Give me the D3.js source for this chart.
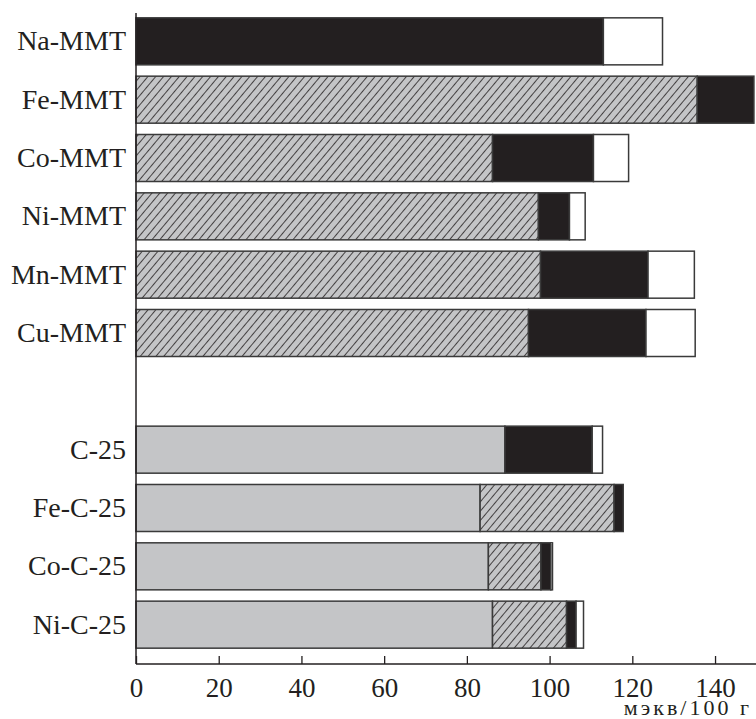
<!DOCTYPE html>
<html><head><meta charset="utf-8">
<script src="https://cdn.jsdelivr.net/npm/d3@7"></script>
<style>body{margin:0;background:#fff}svg{display:block}</style>
</head><body>
<script>
const categories = ["Na-MMT","Fe-MMT","Co-MMT","Ni-MMT","Mn-MMT","Cu-MMT","","C-25","Fe-C-25","Co-C-25","Ni-C-25"];
const seriesKeys = ["gray","hatched","black","white"];
const grayVals    = [0, 0, 0, 0, 0, 0, 0, 89.2, 83.2, 85.2, 86.2];
const hatchedVals = [0, 135.7, 86.2, 97.3, 97.8, 94.9, 0, 0, 32.4, 12.7, 17.9];
const blackVals   = [113, 13.7, 24.4, 7.5, 26.0, 28.4, 0, 21.1, 2.2, 2.4, 2.3];
const whiteVals   = [14.3, 0, 8.5, 3.8, 11.2, 11.9, 0, 2.5, 0, 0.4, 1.8];
const xTicks = [0,20,40,60,80,100,120,140];
const unitLabel = "мэкв/100 г";

const FONT = "Liberation Serif";
const W = 756, H = 719;
const x0 = 136, axisY = 664;
const svg = d3.select("body").append("svg").attr("width", W).attr("height", H)
  .attr("font-family", FONT);

const defs = svg.append("defs");
const pat = defs.append("pattern").attr("id","hatch").attr("patternUnits","userSpaceOnUse")
  .attr("width",6).attr("height",6).attr("patternTransform","rotate(40)");
pat.append("rect").attr("width",6).attr("height",6).attr("fill","#c4c5c7");
pat.append("line").attr("x1",0).attr("y1",0).attr("x2",0).attr("y2",6)
  .attr("stroke","#231f20").attr("stroke-width",1.6);

const x = d3.scaleLinear().domain([0,150]).range([x0, x0 + 150*4.136]);
const y = d3.scaleBand().domain(categories).range([12, 654]).paddingInner(0.194).paddingOuter(0.1);

const table = categories.map((c,i)=>({cat:c, gray:grayVals[i], hatched:hatchedVals[i], black:blackVals[i], white:whiteVals[i]}));
const stack = d3.stack().keys(seriesKeys)(table);
const fills = {gray:"#c4c5c7", hatched:"url(#hatch)", black:"#231f20", white:"#ffffff"};

stack.forEach(layer=>{
  svg.append("g").selectAll("rect").data(layer.filter(d=>d[1]-d[0]>0 && d.data.cat!==""))
    .join("rect")
    .attr("x", d=>x(d[0]))
    .attr("y", d=>y(d.data.cat))
    .attr("width", d=>x(d[1])-x(d[0]))
    .attr("height", y.bandwidth())
    .attr("fill", fills[layer.key])
    .attr("stroke", "#3a3a3a")
    .attr("stroke-width", 1.5);
});

// x axis
const xAxis = d3.axisBottom(x).tickValues(xTicks).tickSize(-8).tickPadding(14).tickFormat(d3.format("d"));
const gx = svg.append("g").attr("transform",`translate(0,${axisY})`).call(xAxis);
gx.attr("font-family", FONT);
gx.select(".domain").remove();
gx.append("line").attr("x1",x0).attr("x2",W).attr("stroke","#231f20").attr("stroke-width",1.5);
gx.selectAll(".tick line").attr("stroke","#231f20").attr("stroke-width",1.3);
gx.selectAll(".tick text").attr("font-family", FONT).attr("font-size",27).attr("fill","#231f20");

// y axis
const yAxis = d3.axisLeft(y).tickSize(0).tickPadding(10);
const gy = svg.append("g").attr("transform",`translate(${x0},0)`).call(yAxis);
gy.attr("font-family", FONT);
gy.select(".domain").remove();
gy.append("line").attr("y1",13).attr("y2",axisY).attr("stroke","#231f20").attr("stroke-width",1.5);
gy.selectAll(".tick text").attr("font-family", FONT).attr("font-size",28).attr("fill","#231f20");

svg.append("text").attr("x",752).attr("y",715).attr("text-anchor","end")
  .attr("font-family", FONT).attr("font-size",22).attr("letter-spacing",3)
  .attr("fill","#231f20").text(unitLabel);
</script>
</body></html>
